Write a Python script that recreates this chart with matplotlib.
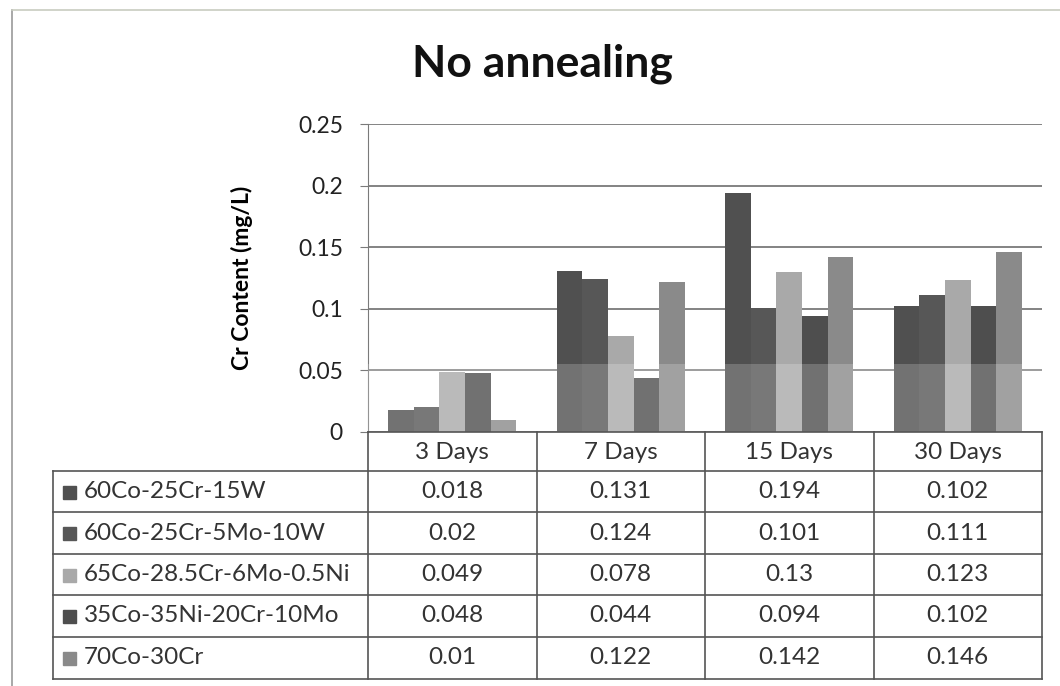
import matplotlib.pyplot as plt
import numpy as np

plt.rcParams["font.family"] = ["Lato", "DejaVu Sans"]

days = ["3 Days", "7 Days", "15 Days", "30 Days"]
alloys = [
    "60Co-25Cr-15W",
    "60Co-25Cr-5Mo-10W",
    "65Co-28.5Cr-6Mo-0.5Ni",
    "35Co-35Ni-20Cr-10Mo",
    "70Co-30Cr",
]
cr_15w = [0.018, 0.131, 0.194, 0.102]
cr_5mo_10w = [0.02, 0.124, 0.101, 0.111]
cr_6mo_05ni = [0.049, 0.078, 0.13, 0.123]
cr_35ni = [0.048, 0.044, 0.094, 0.102]
cr_70co = [0.01, 0.122, 0.142, 0.146]
series = [cr_15w, cr_5mo_10w, cr_6mo_05ni, cr_35ni, cr_70co]
colors = ["#505050", "#575757", "#a9a9a9", "#4e4e4e", "#8a8a8a"]

W, H = 1060, 686
fig = plt.figure(figsize=(W / 100, H / 100), dpi=100)


def fx(px):
    return px / W


def fy(py):
    return 1 - py / H


# page frame lines
fig.add_artist(plt.Line2D([fx(12), fx(12)], [fy(10), 0], color="#9a9a9a", lw=1.2))
fig.add_artist(plt.Line2D([fx(12), 1], [fy(10), fy(10)], color="#c8ccc0", lw=1.2))

L, R, T, B = 368, 1042, 124, 432
ax = fig.add_axes([fx(L), fy(B), fx(R - L), (B - T) / H])

x = np.arange(len(days))
n = len(series)
bw = 0.76 / n
for i, vals in enumerate(series):
    ax.bar(x + (i - (n - 1) / 2) * bw, vals, bw, color=colors[i], zorder=2)

# lighter band across the lower part of the bars
ax.axhspan(0, 0.055, color="white", alpha=0.2, zorder=3, lw=0)

ax.set_xlim(-0.5, len(days) - 0.5)
ax.set_ylim(0, 0.25)
ax.set_yticks([0, 0.05, 0.1, 0.15, 0.2, 0.25])
ax.set_yticklabels(["0", "0.05", "0.1", "0.15", "0.2", "0.25"], fontsize=16.5, color="#222222")
ax.yaxis.grid(True, color="#7a7a7a", lw=1.3, zorder=0)
ax.tick_params(axis="y", length=6, color="#7a7a7a", pad=12)
ax.set_xticks([])
for s in ["top", "right", "bottom"]:
    ax.spines[s].set_visible(False)
ax.spines["left"].set_color("#7a7a7a")
ax.set_ylabel("Cr Content (mg/L)", fontsize=16.5, fontweight="bold")
ax.yaxis.set_label_coords((253 - L) / (R - L), 0.5)

fig.text(fx(542), fy(64), "No annealing", fontsize=32, fontweight="bold",
         ha="center", va="center", color="#111111")

# data table under the chart
tab = fig.add_axes([0, 0, 1, 1])
tab.set_xlim(0, W)
tab.set_ylim(H, 0)
tab.axis("off")
line_c = "#555555"
col_edges = np.linspace(L, R, len(days) + 1)
row_edges = [B, 471, 512, 554, 595, 637, 679]
lab_left = 53

tab.plot([L, R], [B, B], color=line_c, lw=1.2)
for y in row_edges[1:]:
    tab.plot([lab_left, R], [y, y], color=line_c, lw=1.2)
for xe in col_edges:
    tab.plot([xe, xe], [B, row_edges[-1]], color=line_c, lw=1.2)
tab.plot([lab_left, lab_left], [row_edges[1], row_edges[-1]], color=line_c, lw=1.2)

for j, d in enumerate(days):
    cx = (col_edges[j] + col_edges[j + 1]) / 2
    tab.text(cx, (row_edges[0] + row_edges[1]) / 2 + 1, d, fontsize=17.5,
             ha="center", va="center", color="#333333")

for i, (name, vals) in enumerate(zip(alloys, series)):
    cy = (row_edges[i + 1] + row_edges[i + 2]) / 2
    tab.add_patch(plt.Rectangle((63, cy - 6), 13, 13, color=colors[i]))
    tab.text(84, cy, name, fontsize=17.5, ha="left", va="center", color="#333333")
    for j, v in enumerate(vals):
        cx = (col_edges[j] + col_edges[j + 1]) / 2
        tab.text(cx, cy, f"{v:g}", fontsize=17.5, ha="center", va="center",
                 color="#333333")

fig.savefig("out.png", dpi=100)
